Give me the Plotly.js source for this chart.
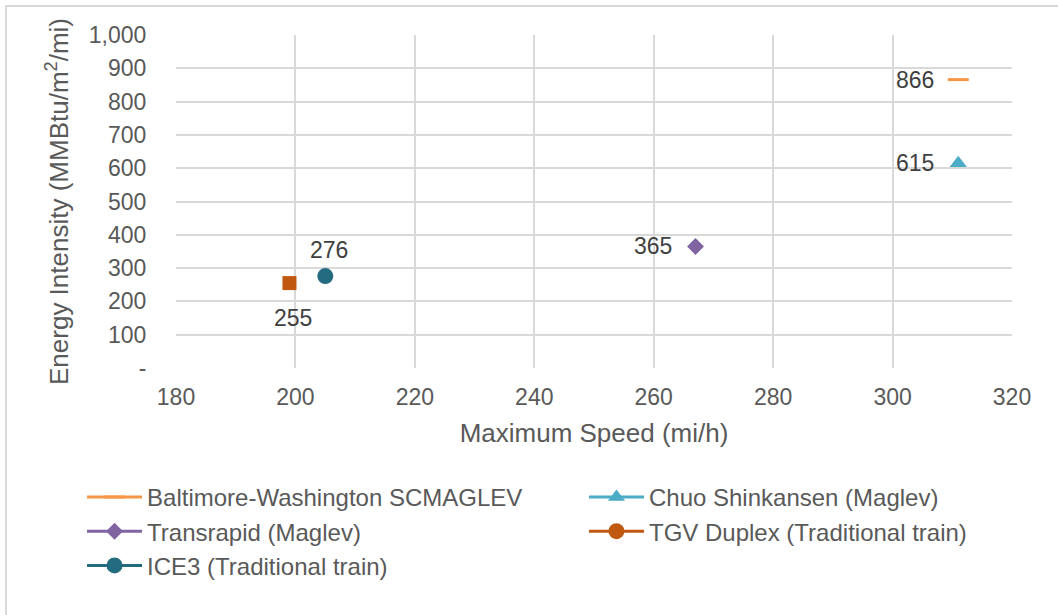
<!DOCTYPE html>
<html>
<head>
<meta charset="utf-8">
<script src="https://cdn.plot.ly/plotly-3.0.1.min.js"></script>
<style>
  html, body { margin: 0; padding: 0; background: #ffffff; }
  #chart { width: 1058px; height: 615px; position: relative; }
  #frame { position: absolute; left: 5px; top: 5px; width: 1100px; height: 700px;
           border: 2px solid #d9d9d9; box-sizing: border-box; pointer-events: none; }
</style>
</head>
<body>
<div id="chart"></div>
<div id="frame"></div>
<script>
// Data
const seriesNames = [
  "Baltimore-Washington SCMAGLEV",
  "Chuo Shinkansen (Maglev)",
  "Transrapid (Maglev)",
  "TGV Duplex (Traditional train)",
  "ICE3 (Traditional train)"
];
const maxSpeed = [311, 311, 267, 199, 205];        // mi/h
const energyIntensity = [866, 615, 365, 255, 276]; // MMBtu/m2/mi
const pointLabels = ["866", "615", "365", "255", "276"];
const yTickVals = [0, 100, 200, 300, 400, 500, 600, 700, 800, 900, 1000];
const yTickText = ["-", "100", "200", "300", "400", "500", "600", "700", "800", "900", "1,000"];
const xTickVals = [180, 200, 220, 240, 260, 280, 300, 320];

// Styles
const FONT = "Liberation Sans, Arial, sans-serif";
const colors = ["#F79646", "#4BACC6", "#8064A2", "#C0580F", "#236B7F"];
const symbols = ["line-ew", "triangle-up", "diamond", "square", "circle"];
const legendSymbols = ["line-ew", "triangle-up", "diamond", "circle", "circle"];
const sizes = [15, 15, 13, 14, 16];
const legendIds = ["legend", "legend2", "legend", "legend2", "legend"];
// label placement: [xanchor, xshift, yshift]
const labelPlace = [
  ["right", -22, 0],
  ["right", -22, 0],
  ["right", -22, 0],
  ["center", 4, -35],
  ["center", 4, 26]
];

const traces = [];
seriesNames.forEach((name, i) => {
  const sameSymbol = symbols[i] === legendSymbols[i];
  // plotted point
  traces.push({
    type: "scatter",
    mode: "lines+markers",
    name: name,
    legend: legendIds[i],
    showlegend: sameSymbol,
    x: [maxSpeed[i]],
    y: [energyIntensity[i]],
    line: { color: colors[i], width: 3 },
    marker: {
      symbol: symbols[i],
      size: sizes[i],
      color: colors[i],
      line: { color: colors[i], width: symbols[i] === "line-ew" ? 3 : 0 }
    },
    cliponaxis: false,
    hoverinfo: "x+y+name"
  });
  // legend-only entry when the legend glyph differs from the plotted marker
  if (!sameSymbol) {
    traces.push({
      type: "scatter",
      mode: "lines+markers",
      name: name,
      legend: legendIds[i],
      showlegend: true,
      x: [null],
      y: [null],
      line: { color: colors[i], width: 3 },
      marker: { symbol: legendSymbols[i], size: 16, color: colors[i] },
      hoverinfo: "skip"
    });
  }
});

const annotations = seriesNames.map((name, i) => ({
  x: maxSpeed[i],
  y: energyIntensity[i],
  xref: "x",
  yref: "y",
  text: pointLabels[i],
  showarrow: false,
  xanchor: labelPlace[i][0],
  yanchor: "middle",
  xshift: labelPlace[i][1],
  yshift: labelPlace[i][2],
  font: { family: FONT, size: 23, color: "#404040" }
}));

const legendBase = {
  orientation: "v",
  xanchor: "left",
  y: -0.321,
  yanchor: "top",
  itemwidth: 55,
  tracegroupgap: 0,
  font: { size: 24, color: "#595959" },
  bgcolor: "rgba(0,0,0,0)"
};

const layout = {
  width: 1058,
  height: 615,
  margin: { l: 176, r: 46, t: 35, b: 247, autoexpand: false },
  paper_bgcolor: "rgba(0,0,0,0)",
  plot_bgcolor: "#ffffff",
  font: { family: FONT, color: "#595959", size: 23 },
  showlegend: true,
  annotations: annotations,
  xaxis: {
    range: [180, 320],
    tickvals: xTickVals,
    showgrid: true,
    gridcolor: "#d9d9d9",
    gridwidth: 2,
    zeroline: false,
    showline: false,
    ticks: "outside",
    ticklen: 8,
    tickcolor: "rgba(0,0,0,0)",
    tickfont: { size: 23, color: "#595959" },
    automargin: false,
    title: { text: "Maximum Speed (mi/h)", font: { size: 26, color: "#595959" }, standoff: 15 }
  },
  yaxis: {
    range: [0, 1000],
    tickvals: yTickVals,
    ticktext: yTickText,
    showgrid: true,
    gridcolor: "#d9d9d9",
    gridwidth: 2,
    zeroline: false,
    showline: false,
    ticks: "outside",
    ticklen: 24,
    tickcolor: "rgba(0,0,0,0)",
    tickfont: { size: 23, color: "#595959" },
    automargin: false,
    title: { text: "Energy Intensity (MMBtu/m<sup>2</sup>/mi)", font: { size: 26, color: "#595959" }, standoff: 12 }
  },
  legend: Object.assign({}, legendBase, { x: -0.1124 }),
  legend2: Object.assign({}, legendBase, { x: 0.488 })
};

Plotly.newPlot("chart", traces, layout, { displayModeBar: false, staticPlot: true });
</script>
</body>
</html>
